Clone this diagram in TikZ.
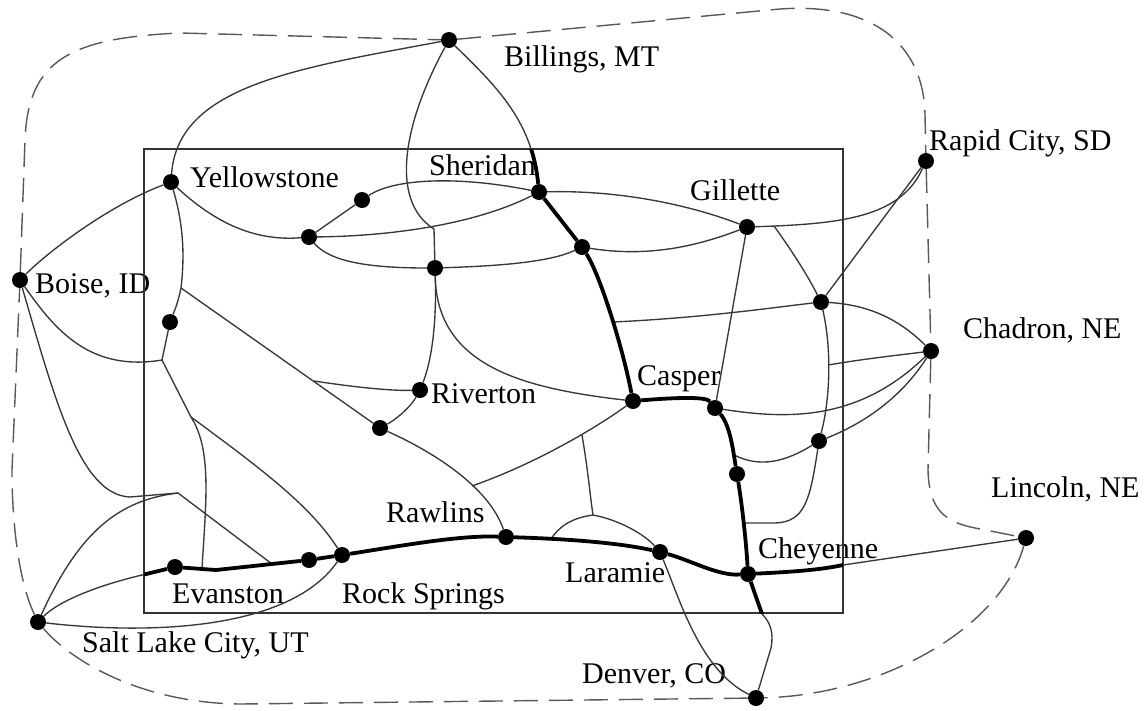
\documentclass[tikz,border=0pt]{standalone}
\usepackage{fontspec}
\setmainfont{Liberation Serif}
\begin{document}
\begin{tikzpicture}[x=1pt,y=-1pt,
  dot/.style={circle,fill=black,inner sep=0pt,minimum size=16pt},
  road/.style={line width=1.35pt,draw=black!78},
  mainroad/.style={line width=3.8pt,draw=black},
  border/.style={line width=1.4pt,draw=black!65,dash pattern=on 24pt off 11pt},
  lbl/.style={anchor=base west,inner sep=0pt,font=\fontsize{30}{36}\selectfont}
]
\useasboundingbox (0,0) rectangle (1146,710);
\fill[white] (0,0) rectangle (1146,710);

% cities and stops
\node[dot] (bil) at (449,40) {};
\node[dot] (rap) at (926,161) {};
\node[dot] (yel) at (171,182) {};
\node[dot] (sher) at (539,192) {};
\node[dot] (gil) at (747,227) {};
\node[dot] (boi) at (20,280) {};
\node[dot] (d362) at (362,200) {};
\node[dot] (d308) at (309,237) {};
\node[dot] (d582) at (582,247) {};
\node[dot] (d434) at (435,268) {};
\node[dot] (d822) at (821,302) {};
\node[dot] (d170) at (170,322) {};
\node[dot] (chad) at (931,351) {};
\node[dot] (riv) at (420,390) {};
\node[dot] (casp) at (633,401) {};
\node[dot] (d714) at (715,408) {};
\node[dot] (d380) at (380,428) {};
\node[dot] (d818) at (819,441) {};
\node[dot] (d737) at (737,474) {};
\node[dot] (raw) at (506,537) {};
\node[dot] (lin) at (1026,538) {};
\node[dot] (lar) at (660,552) {};
\node[dot] (chey) at (748,574) {};
\node[dot] (evan) at (175,567) {};
\node[dot] (d310) at (309,560) {};
\node[dot] (rs) at (342,555) {};
\node[dot] (slc) at (38,622) {};
\node[dot] (den) at (756,698) {};

% junctions
\coordinate (jA) at (434,229);
\coordinate (j1) at (181,288);
\coordinate (j2) at (314,381);
\coordinate (j3) at (162,360);
\coordinate (j4) at (191,417);
\coordinate (j5) at (178,493);
\coordinate (jC) at (613,322);
\coordinate (jD) at (828,365);
\coordinate (jE) at (734,455);
\coordinate (jF) at (744,523);
\coordinate (jG) at (774,226);
\coordinate (jH) at (472,486);
\coordinate (jI) at (582,435);
\coordinate (jJ) at (593,515);
\coordinate (jK) at (551,539);
\coordinate (jL) at (202,569);
\coordinate (jM) at (272,564);

% labels
\node[lbl] (tbil) at (504,66) {Billings, MT};
\node[lbl] (tyel) at (190,187) {Yellowstone};
\node[lbl] (tsher) at (429,175) {Sheridan};
\node[lbl] (tboi) at (35,293) {Boise, ID};
\node[lbl] (trap) at (929,150) {Rapid City, SD};
\node[lbl] (tgil) at (690,200) {Gillette};
\node[lbl] (tchad) at (963,338) {Chadron, NE};
\node[lbl] (triv) at (431,403) {Riverton};
\node[lbl] (tcasp) at (637,385) {Casper};
\node[lbl] (traw) at (386,522) {Rawlins};
\node[lbl] (tevan) at (172,603) {Evanston};
\node[lbl] (trs) at (342,603) {Rock Springs};
\node[lbl] (tslc) at (82,652) {Salt Lake City, UT};
\node[lbl] (tlar) at (565,582) {Laramie};
\node[lbl] (tchey) at (758,558) {Cheyenne};
\node[lbl] (tlin) at (991,497) {Lincoln, NE};
\node[lbl] (tden) at (582,683) {Denver, CO};

% Wyoming frame
\draw[line width=1.3pt,draw=black!80] (144,149) rectangle (843,613);

% dashed region
\draw[border] (bil) -- (780,9) .. controls (880,2) and (924,50) .. (925,115) -- (rap)
  -- (chad) -- (928,470) .. controls (929,510) and (945,522) .. (975,528) -- (lin)
  .. controls (1000,630) and (880,695) .. (den) -- (240,704)
  .. controls (140,703) and (70,660) .. (slc)
  .. controls (18,580) and (12,520) .. (12,470) -- (boi)
  -- (25,140) .. controls (28,60) and (70,38) .. (180,33) -- (bil);

% thin roads
\draw[road] (bil) .. controls (300,68) and (178,85) .. (yel);
\draw[road] (bil) .. controls (405,120) and (388,200) .. (jA) -- (d434);
\draw[road] (bil) .. controls (495,85) and (532,120) .. (sher);
\draw[road] (yel) .. controls (185,230) and (184,262) .. (j1) .. controls (178,303) and (174,312) .. (d170);
\draw[road] (yel) .. controls (110,205) and (50,250) .. (boi);
\draw[road] (yel) .. controls (210,218) and (250,242) .. (d308);
\draw[road] (d308) -- (d362);
\draw[road] (d362) .. controls (395,178) and (460,176) .. (sher);
\draw[road] (d308) .. controls (400,236) and (480,222) .. (sher);
\draw[road] (d308) .. controls (330,262) and (370,268) .. (d434);
\draw[road] (d434) .. controls (500,266) and (550,262) .. (d582);
\draw[road] (d582) .. controls (650,258) and (700,245) .. (gil);
\draw[road] (sher) .. controls (620,190) and (690,205) .. (gil);
\draw[road] (gil) .. controls (840,224) and (900,218) .. (rap);
\draw[road] (d822) -- (rap);
\draw[road] (gil) -- (d714);
\draw[road] (jG) .. controls (795,255) and (810,280) .. (d822);
\draw[road] (d822) .. controls (832,350) and (830,400) .. (d818);
\draw[road] (d822) .. controls (870,305) and (900,320) .. (chad);
\draw[road] (jC) .. controls (700,318) and (770,308) .. (d822);
\draw[road] (jD) .. controls (870,358) and (900,355) .. (chad);
\draw[road] (d714) .. controls (790,420) and (860,420) .. (chad);
\draw[road] (d818) .. controls (860,425) and (900,400) .. (chad);
\draw[road] (jE) .. controls (760,468) and (785,462) .. (d818);
\draw[road] (d818) .. controls (810,500) and (805,522) .. (775,523) -- (jF);
\draw[road] (d434) .. controls (437,330) and (430,365) .. (riv);
\draw[road] (d434) .. controls (437,365) and (520,388) .. (casp);
\draw[road] (j1) -- (d380);
\draw[road] (j2) .. controls (360,388) and (395,391) .. (riv);
\draw[road] (riv) .. controls (410,408) and (395,420) .. (d380);
\draw[road] (d380) .. controls (440,455) and (490,490) .. (raw);
\draw[road] (casp) .. controls (600,425) and (540,462) .. (jH);
\draw[road] (jI) .. controls (588,470) and (590,495) .. (jJ);
\draw[road] (jJ) .. controls (570,518) and (558,528) .. (jK);
\draw[road] (jJ) .. controls (620,520) and (645,535) .. (lar);
\draw[road] (lar) .. controls (680,600) and (700,670) .. (den);
\draw[road] (chey) -- (762,614) .. controls (770,622) and (774,632) .. (771,648) -- (den);
\draw[road] (chey) .. controls (790,572) and (820,570) .. (843,565) -- (lin);
\draw[road] (slc) .. controls (60,600) and (100,585) .. (142,575) -- (evan);
\draw[road] (d170) -- (j3) -- (j4);
\draw[road] (boi) .. controls (55,330) and (90,372) .. (j3);
\draw[road] (j4) .. controls (260,468) and (310,505) .. (rs);
\draw[road] (j4) .. controls (212,450) and (206,500) .. (jL);
\draw[road] (boi) .. controls (55,400) and (80,495) .. (130,497) -- (j5);
\draw[road] (j5) -- (jM);
\draw[road] (j5) .. controls (120,500) and (80,530) .. (slc);
\draw[road] (slc) .. controls (150,635) and (290,630) .. (rs);

% main route
\begin{scope}
\clip (144,149) rectangle (843,613);
\draw[mainroad] (bil) .. controls (495,85) and (532,120) .. (sher);
\draw[mainroad] (chey) -- (762,614) .. controls (770,622) and (774,632) .. (771,648);
\draw[mainroad] (chey) .. controls (790,572) and (820,570) .. (843,565) -- (lin);
\draw[mainroad] (slc) .. controls (60,600) and (100,585) .. (142,575) -- (evan);
\end{scope}
\draw[mainroad] (sher) -- (d582);
\draw[mainroad] (d582) .. controls (600,275) and (622,345) .. (casp);
\draw[mainroad] (casp) .. controls (670,398) and (706,396) .. (d714);
\draw[mainroad] (d714) .. controls (730,425) and (733,450) .. (d737);
\draw[mainroad] (d737) .. controls (742,505) and (746,540) .. (chey);
\draw[mainroad] (lar) .. controls (690,560) and (718,576) .. (chey);
\draw[mainroad] (raw) .. controls (570,539) and (620,543) .. (lar);
\draw[mainroad] (rs) .. controls (400,546) and (460,535) .. (raw);
\draw[mainroad] (rs) -- (d310);
\draw[mainroad] (d310) -- (216,570) -- (evan);
\end{tikzpicture}
\end{document}
